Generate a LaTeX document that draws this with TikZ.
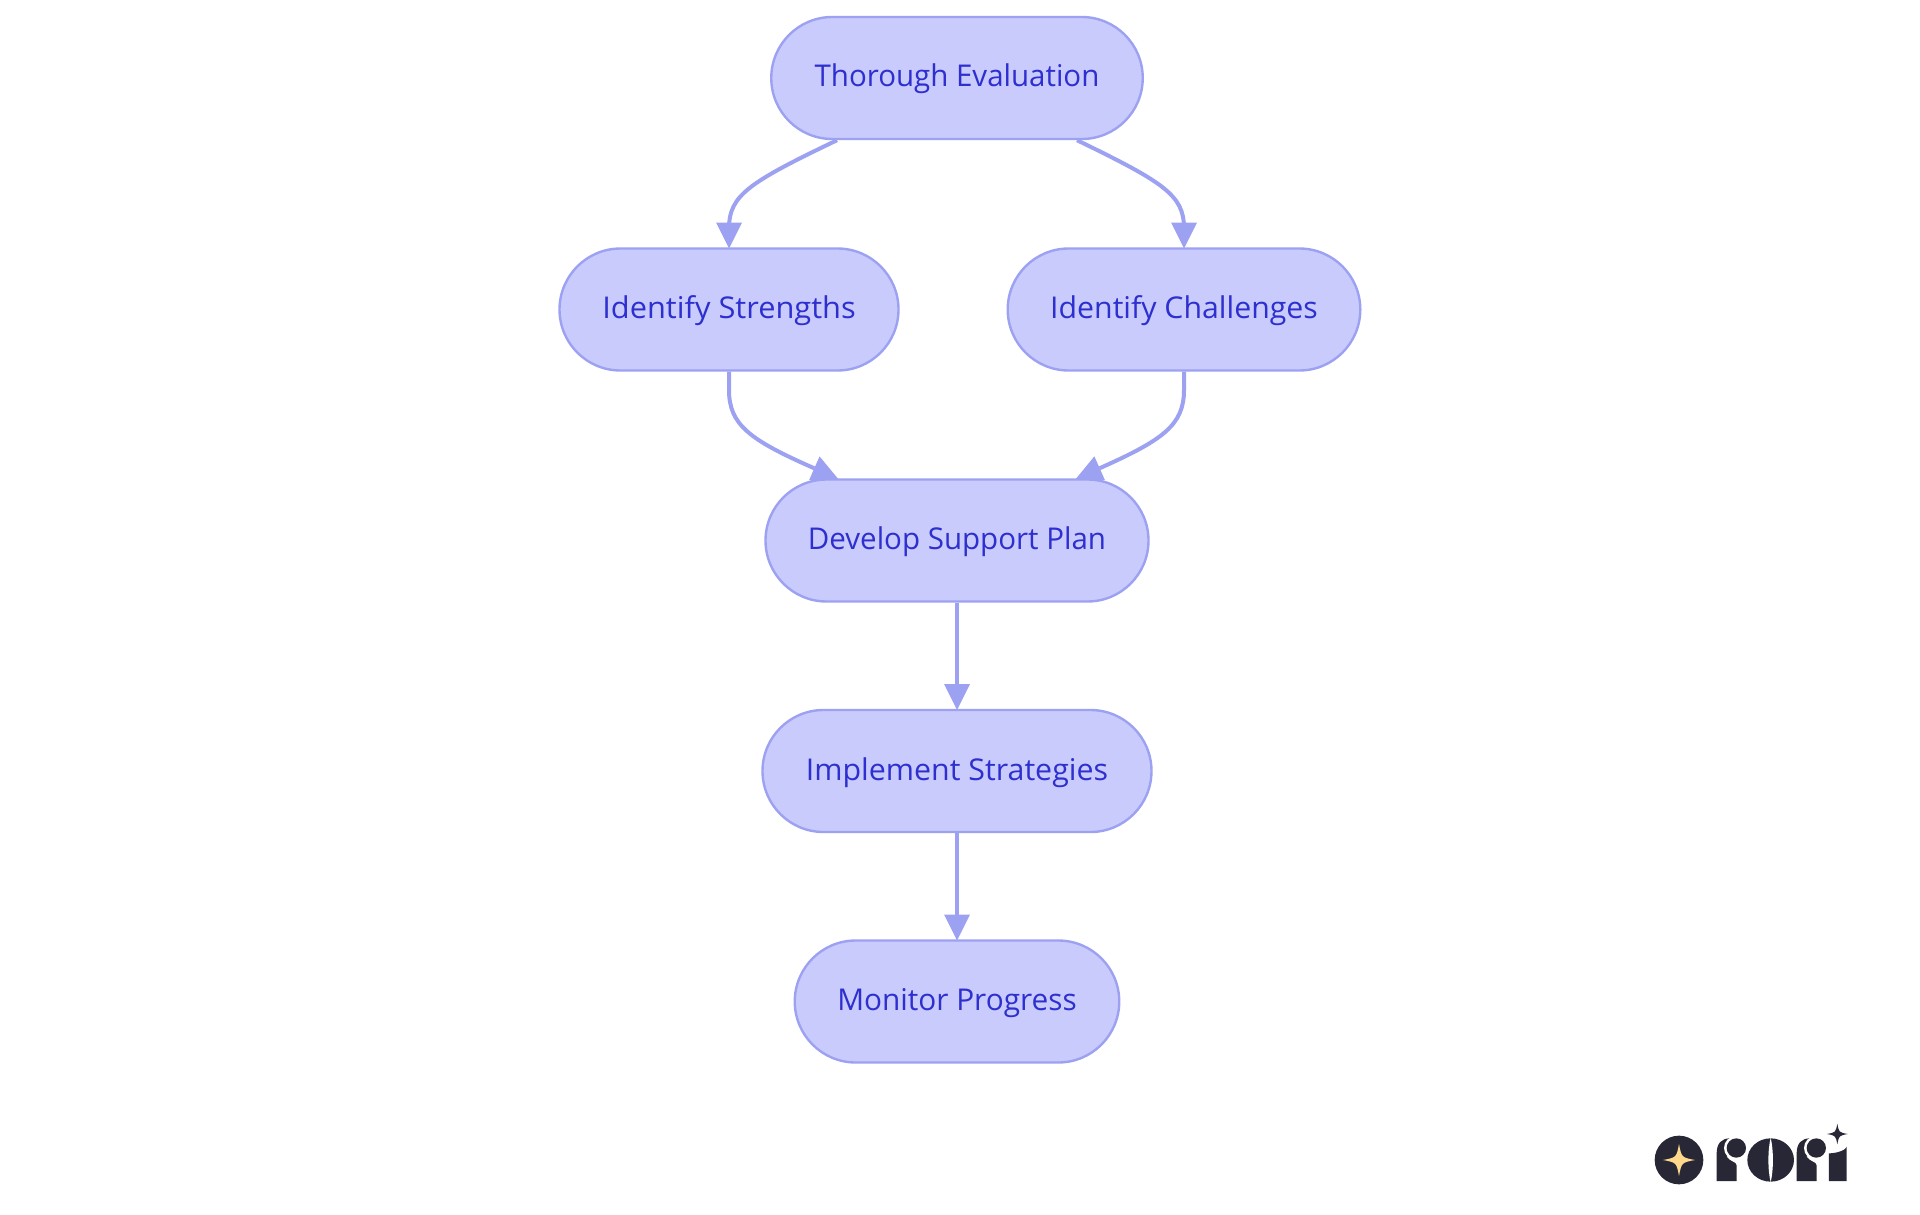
\documentclass[tikz,border=0pt]{standalone}
\usepackage{graphicx}
\usepackage{fontspec}
\setmainfont{Open Sans}
\usetikzlibrary{arrows.meta,shapes.misc}
\definecolor{nodefill}{HTML}{C9CBFD}
\definecolor{nodeline}{HTML}{9DA1F2}
\definecolor{nodetext}{HTML}{2D2FCF}
\definecolor{logodark}{HTML}{282736}
\definecolor{logostar}{HTML}{FFD88C}
\tikzset{
  stage/.style={rounded rectangle, draw=nodeline, fill=nodefill, line width=2.4pt,
    minimum height=122pt, inner sep=0pt, text=nodetext, text height=20pt, text depth=2pt,
    font=\fontsize{30}{35}\selectfont},
  flow/.style={draw=nodeline, line width=4pt, shorten >=-1.2pt, -{Triangle[length=26pt,width=26pt,line width=0pt]}}
}
\newcommand{\fourstar}[4]{\fill[#4] (#1-#3,#2) .. controls (#1-.16*#3,#2-.16*#3) .. (#1,#2-#3)
  .. controls (#1+.16*#3,#2-.16*#3) .. (#1+#3,#2)
  .. controls (#1+.16*#3,#2+.16*#3) .. (#1,#2+#3)
  .. controls (#1-.16*#3,#2+.16*#3) .. cycle;}
\begin{document}
\begin{tikzpicture}[x=1pt,y=-1pt]
\useasboundingbox (0,0) rectangle (1920,1215);
\node[stage, minimum width=371.5pt] (te) at (957,78) {\scalebox{.983}[1]{Thorough Evaluation}};
\node[stage, minimum width=339pt] (st) at (729,309.5) {\scalebox{1.026}[1]{Identify Strengths}};
\node[stage, minimum width=352.6pt] (ch) at (1184,309.5) {\scalebox{1.009}[1]{Identify Challenges}};
\node[stage, minimum width=383pt] (dp) at (957,540.5) {\scalebox{.984}[1]{Develop Support Plan}};
\node[stage, minimum width=389pt] (is) at (957,771) {\scalebox{1.012}[1]{Implement Strategies}};
\node[stage, minimum width=324.5pt] (mp) at (957,1001.5) {\scalebox{.992}[1]{Monitor Progress}};
\draw[flow] ([xshift=-120pt]te.south) .. controls (750,182) and (729,195) .. (729,228) -- (st.north);
\draw[flow] ([xshift=120pt]te.south) .. controls (1163,182) and (1184,195) .. (1184,228) -- (ch.north);
\draw[flow] (st.south) -- (729,390) .. controls (729,425) and (750,440) .. ([xshift=-120pt]dp.north);
\draw[flow] (ch.south) -- (1184,390) .. controls (1184,425) and (1163,440) .. ([xshift=120pt]dp.north);
\draw[flow] (dp.south) -- (is.north);
\draw[flow] (is.south) -- (mp.north);
% logo, drawn in 3x crop coordinates
\begin{scope}[shift={(1620,1100)},x=.3333pt,y=-.3333pt]
  \fill[logodark] (177,180) circle[radius=73];
  \fourstar{177}{180}{48}{logostar}
  % first r
  \fill[logodark] (290,243) -- (290,160) .. controls (290,130) and (305,115) .. (330,115) -- (350,115) -- (350,243) -- cycle;
  \fill[white] (348,144) circle[radius=36];
  \fill[white] (320,170) .. controls (330,185) and (350,185) .. (350,195) -- (380,195) -- (380,150) -- cycle;
  \fill[logodark] (349,144) circle[radius=29];
  % o
  \fill[logodark] (452,180) ellipse[x radius=70,y radius=65];
  \fill[white] (452,113) .. controls (443,150) and (443,210) .. (452,247) .. controls (461,210) and (461,150) .. (452,113) -- cycle;
  % second r
  \fill[logodark] (530,243) -- (530,160) .. controls (530,130) and (545,115) .. (570,115) -- (590,115) -- (590,243) -- cycle;
  \fill[white] (588,144) circle[radius=36];
  \fill[white] (560,170) .. controls (570,185) and (590,185) .. (590,195) -- (620,195) -- (620,150) -- cycle;
  \fill[logodark] (589,144) circle[radius=29];
  % i
  \fill[logodark] (627,243) -- (627,160) .. controls (640,160) and (675,155) .. (680,140) -- (680,243) -- cycle;
  \fourstar{652}{102}{31}{logodark}
\end{scope}
\end{tikzpicture}
\end{document}
